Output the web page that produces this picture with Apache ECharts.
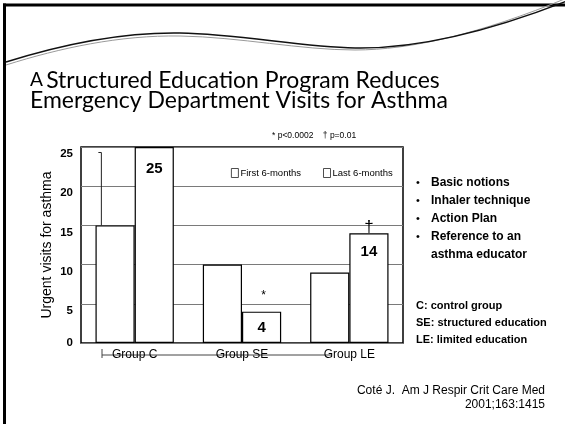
<!DOCTYPE html>
<html>
<head>
<meta charset="utf-8">
<script src="https://cdn.jsdelivr.net/npm/echarts@6/dist/echarts.min.js"></script>
<style>html,body{margin:0;padding:0;background:#fff;}#c{width:565px;height:424px;}</style>
</head>
<body>
<div id="c"></div>
<script>
// ---- data ----
const categories = ['Group C', 'Group SE', 'Group LE'];
const seriesNames = ['First 6-months', 'Last 6-months'];
const first6 = [15, 10, 9];
const last6 = [25, 4, 14];
const lastLabels = ['25', '4', '14'];
const annotCats = [1, 2];
const annotVals = [4, 14];
const annotText = ['*', '\u2020'];
const errCats = [0];
const errLow = [15];
const errHigh = [24.3];
const yTicks = [0, 5, 10, 15, 20, 25];

const AR = '"Liberation Sans", Arial, sans-serif';
const chart = echarts.init(document.getElementById('c'), null, {renderer: 'canvas'});
const catGap = 0.27;

function bez(p, stroke, w) {
  return {type: 'bezierCurve', silent: true,
    shape: {x1: p[0], y1: p[1], cpx1: p[2], cpy1: p[3], cpx2: p[4], cpy2: p[5], x2: p[6], y2: p[7]},
    style: {fill: null, stroke: stroke, lineWidth: w}};
}
const waveDark = [[6,62,60,45,120,32,180,33],[180,33,240,34,300,47,355,48],[355,48,410,49,480,35,567,1]];
const waveGray = [[6,65,60,48,120,35,180,36],[180,36,240,37,300,50,355,50],[355,50,410,50,480,34,567,-2]];

const option = {
  backgroundColor: '#fff',
  animation: false,
  grid: {left: 81, right: 162, top: 147, bottom: 81, show: true, borderColor: '#000', borderWidth: 1.5, backgroundColor: 'transparent'},
  legend: {
    data: seriesNames, left: 226, top: 163, icon: 'rect', itemWidth: 7, itemHeight: 9, itemGap: 22,
    itemStyle: {borderWidth: 0.8, borderColor: '#222'},
    textStyle: {fontFamily: AR, fontSize: 9.5, color: '#000', padding: [0, 0, 0, -3]}
  },
  xAxis: {
    type: 'category', data: categories,
    axisLine: {show: false}, axisTick: {show: false},
    axisLabel: {fontFamily: AR, fontSize: 12, color: '#000', margin: 6}
  },
  yAxis: {
    type: 'value', min: yTicks[0], max: yTicks[yTicks.length - 1], interval: 5,
    name: 'Urgent visits for asthma', nameLocation: 'middle', nameGap: 27, nameMoveOverlap: false,
    nameTextStyle: {fontFamily: AR, fontSize: 14, color: '#000'},
    axisLine: {show: false}, axisTick: {show: false},
    splitLine: {lineStyle: {color: '#7a7a7a', width: 1}},
    axisLabel: {
      margin: 8, color: '#000',
      formatter: v => (v === 0 ? '{z|' + v + '}' : '{n|' + v + '}'),
      rich: {
        z: {fontFamily: AR, fontSize: 11.5, fontWeight: 'bold', color: '#000'},
        n: {fontFamily: AR, fontSize: 11.5, fontWeight: 'bold', color: '#000', padding: [14, 0, 0, 0]}
      }
    }
  },
  series: [
    {
      name: seriesNames[0], type: 'bar', data: first6, barGap: '0%', barCategoryGap: (catGap * 100) + '%',
      itemStyle: {color: '#fff', borderColor: '#000', borderWidth: 1.2}
    },
    {
      name: seriesNames[1], type: 'bar', data: last6.map((v, i) => ({value: v, label: {distance: i === 0 ? 14 : (i === 1 ? 9 : 11)}})),
      barGap: '0%', barCategoryGap: (catGap * 100) + '%',
      itemStyle: {color: '#fff', borderColor: '#000', borderWidth: 1.2},
      label: {show: true, position: 'insideTop', fontFamily: AR, fontSize: 15, fontWeight: 'bold', color: '#000',
        formatter: p => lastLabels[p.dataIndex]}
    },
    {
      type: 'custom', silent: true, z: 5,
      data: errCats.map((c, i) => [c, errLow[i], errHigh[i]]),
      renderItem: function (params, api) {
        const lo = api.coord([api.value(0), api.value(1)]);
        const hi = api.coord([api.value(0), api.value(2)]);
        const band = api.size([1, 0])[0];
        const bw = band * (1 - catGap) / 2;
        const x = lo[0] - bw * 0.85;
        return {type: 'group', children: [
          {type: 'line', shape: {x1: x, y1: lo[1], x2: x, y2: hi[1]}, style: {stroke: '#222', lineWidth: 1}},
          {type: 'line', shape: {x1: x - 3, y1: hi[1], x2: x, y2: hi[1]}, style: {stroke: '#222', lineWidth: 1}}
        ]};
      }
    },
    {
      type: 'custom', silent: true, z: 5,
      data: annotCats.map((c, i) => [c, annotVals[i]]),
      renderItem: function (params, api) {
        const p = api.coord([api.value(0), api.value(1)]);
        const band = api.size([1, 0])[0];
        const bw = band * (1 - catGap) / 2;
        const t = annotText[params.dataIndex];
        const dag = t !== '*';
        return {type: 'text', x: p[0] + bw / 2 + (dag ? 0 : 2), y: p[1] - (dag ? -3 : 10),
          style: {text: t, fontFamily: AR, fontSize: dag ? 17 : 12, fontWeight: 'normal', fill: '#000', align: 'center', verticalAlign: 'bottom'}};
      }
    }
  ],
  graphic: [
    {type: 'line', silent: true, shape: {x1: 3, y1: 5, x2: 565, y2: 5}, style: {stroke: '#000', lineWidth: 3}},
    {type: 'line', silent: true, shape: {x1: 4.5, y1: 3.5, x2: 4.5, y2: 424}, style: {stroke: '#000', lineWidth: 3}}
  ].concat(waveGray.map(p => bez(p, '#9a9a9a', 1)), waveDark.map(p => bez(p, '#111', 1.4)), [
    {type: 'text', x: 30, y: 70, scaleX: 0.957, style: {
      text: '{a|A} {b|Structured Education Program Reduces}\n{b|Emergency Department Visits for Asthma}',
      verticalAlign: 'top',
      rich: {a: {fontFamily: 'Lato', fontSize: 20, lineHeight: 20, fill: '#000'}, b: {fontFamily: 'Lato', fontSize: 24, lineHeight: 20, fill: '#000'}}
    }},
    {type: 'text', left: 272, top: 131, style: {text: '* p<0.0002    \u2020 p=0.01', fontFamily: AR, fontSize: 8.5, fill: '#000'}},
    {type: 'line', silent: true, shape: {x1: 102, y1: 355, x2: 332, y2: 355}, style: {stroke: '#444', lineWidth: 1}},
    {type: 'line', silent: true, shape: {x1: 102, y1: 349, x2: 102, y2: 358}, style: {stroke: '#444', lineWidth: 1}},
    {type: 'text', left: 416, top: 174, style: {text: '\u2022\n\u2022\n\u2022\n\u2022', fontFamily: AR, fontSize: 11, lineHeight: 18, fill: '#000'}},
    {type: 'text', left: 431, top: 174, style: {text: 'Basic notions\nInhaler technique\nAction Plan\nReference to an\nasthma educator', fontFamily: AR, fontSize: 12, fontWeight: 'bold', lineHeight: 18, fill: '#000'}},
    {type: 'text', left: 416, top: 297, style: {text: 'C: control group\nSE: structured education\nLE: limited education', fontFamily: AR, fontSize: 11, fontWeight: 'bold', lineHeight: 17, fill: '#000'}},
    {type: 'text', right: 20, top: 385, style: {text: 'Cot\u00e9 J.  Am J Respir Crit Care Med', fontFamily: AR, fontSize: 12, fill: '#000'}},
    {type: 'text', right: 20, top: 399, style: {text: '2001;163:1415', fontFamily: AR, fontSize: 12, fill: '#000'}}
  ])
};
chart.setOption(option);
</script>
</body>
</html>
